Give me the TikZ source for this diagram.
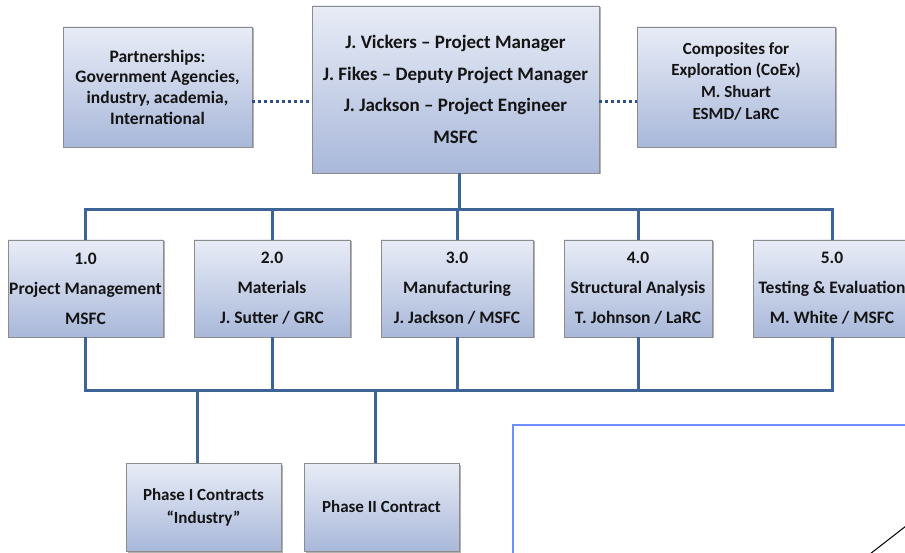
\documentclass[tikz,border=0pt]{standalone}
\usepackage{fontspec}
\setmainfont{Carlito}
\usetikzlibrary{shadows,calc}
\definecolor{boxtop}{HTML}{E8ECF6}
\definecolor{boxbot}{HTML}{A9B8DA}
\definecolor{boxline}{HTML}{8C8C8C}
\definecolor{connc}{HTML}{3D6496}
\definecolor{dotc}{HTML}{2F4F86}
\definecolor{framec}{HTML}{6E8EFF}
\definecolor{txt}{HTML}{141414}
\tikzset{
  orgbox/.style={draw=boxline, line width=0.8pt, top color=boxtop, bottom color=boxbot,
    inner sep=0pt, align=center, text=txt, font=\bfseries,
    drop shadow={shadow xshift=1.5pt, shadow yshift=-1.5pt, opacity=0.3, fill=black}},
  connline/.style={draw=connc, line width=3pt, line join=miter},
  dotline/.style={draw=dotc, line width=3pt, dash pattern=on 3pt off 3pt},
  framel/.style={draw=framec, line width=2pt},
}
\begin{document}
\begin{tikzpicture}[x=1pt,y=-1pt]
\useasboundingbox (0,0) rectangle (905,553);
\clip (0,0) rectangle (905,553);

% top row
\node[orgbox, minimum width=287pt, minimum height=167pt,
  font=\bfseries\fontsize{19}{31.5}\selectfont] (top) at (455.5,89.5)
  {J. Vickers -- Project Manager\\J. Fikes -- Deputy Project Manager\\J. Jackson -- Project Engineer\\MSFC};
\node[orgbox, minimum width=189pt, minimum height=120pt,
  font=\bfseries\fontsize{17.5}{20.7}\selectfont] (part) at (157.5,87)
  {Partnerships:\\Government Agencies,\\industry, academia,\\International};
\node[orgbox, minimum width=198pt, minimum height=120pt,
  font=\bfseries\fontsize{17}{21.7}\selectfont] (coex) at (736,87)
  {Composites for\\Exploration (CoEx)\\M. Shuart\\ESMD/ LaRC\\[-9pt]};

% second row
\tikzset{rowbox/.style={orgbox, minimum height=97pt, font=\bfseries\fontsize{17.5}{30}\selectfont}}
\node[rowbox, minimum width=155pt] (b1) at (85.5,288.5) {1.0\\Project Management\\MSFC};
\node[rowbox, minimum width=156pt] (b2) at (272,288.5) {2.0\\Materials\\J. Sutter / GRC};
\node[rowbox, minimum width=152pt] (b3) at (457,288.5) {3.0\\Manufacturing\\J. Jackson / MSFC};
\node[rowbox, minimum width=148pt] (b4) at (638,288.5) {4.0\\Structural Analysis\\T. Johnson / LaRC};
\node[rowbox, minimum width=158pt] (b5) at (832,288.5) {5.0\\Testing \& Evaluation\\M. White / MSFC};

% bottom row
\tikzset{lowbox/.style={orgbox, minimum height=88pt, minimum width=155pt, font=\bfseries\fontsize{17}{23}\selectfont}}
\node[lowbox] (pA) at (203.5,507) {Phase I Contracts\\``Industry''};
\node[lowbox] (pB) at (381.5,507) {Phase II Contract};

% coordinates for buses
\coordinate (busT) at (459,210);
\coordinate (busB) at (459,390);

% dotted links
\draw[dotline] (part.east |- 0,102) -- (top.west |- 0,102);
\draw[dotline] (top.east |- 0,102) -- (coex.west |- 0,102);

% top bus
\draw[connline] ([xshift=3.5pt]top.south) -- ([xshift=3.5pt]top.south |- busT);
\draw[connline] (b1.north) -- (b1.north |- busT) -- (b5.north |- busT) -- (b5.north);
\foreach \b in {b2,b3,b4} \draw[connline] (\b.north) -- (\b.north |- busT);

% bottom bus
\draw[connline] (b1.south) -- (b1.south |- busB) -- (b5.south |- busB) -- (b5.south);
\foreach \b in {b2,b3,b4} \draw[connline] (\b.south) -- (\b.south |- busB);
\draw[connline] ([xshift=-6.5pt]pA.north |- busB) -- ([xshift=-6.5pt]pA.north);
\draw[connline] ([xshift=-6.5pt]pB.north |- busB) -- ([xshift=-6.5pt]pB.north);

% frame at lower right
\draw[framel] (906,425) -- (513,425) -- (513,554);
\draw[black, line width=1pt] (870,554) -- (906,526);
\end{tikzpicture}
\end{document}
